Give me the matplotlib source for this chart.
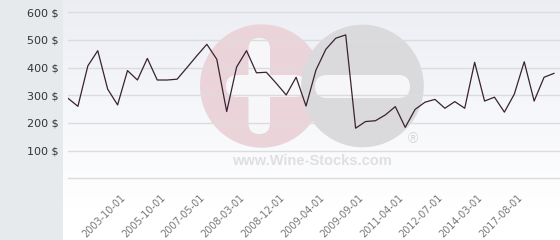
import matplotlib
matplotlib.use('Agg')
import matplotlib.pyplot as plt
import matplotlib.transforms as mtransforms
import numpy as np
from matplotlib.patches import Circle, FancyBboxPatch, Rectangle

# Prices (one point per entry)
prices = [289, 260, 406, 461, 322, 265, 389, 355, 433, 355,
          355, 358, 400, 443, 484, 430, 241, 402, 461, 381,
          383, 343, 301, 365, 261, 391, 466, 506, 518, 181,
          205, 208, 229, 259, 184, 249, 275, 285, 253, 277,
          253, 419, 279, 293, 239, 304, 421, 279, 365, 379]

# Labelled dates (every 4th point, starting at the 7th)
tick_labels = ['2003-10-01', '2005-10-01', '2007-05-01', '2008-03-01',
               '2008-12-01', '2009-04-01', '2009-09-01', '2011-04-01',
               '2012-07-01', '2014-03-01', '2017-08-01']
tick_pos = list(range(6, 6 + 4 * len(tick_labels), 4))

y_ticks = [0, 100, 200, 300, 400, 500, 600]
y_labels = ['' if v == 0 else f'{v} $' for v in y_ticks]

fig = plt.figure(figsize=(5.6, 2.4), dpi=100)

# background layer in pixel coordinates
bg = fig.add_axes([0, 0, 1, 1])
bg.set_xlim(0, 560)
bg.set_ylim(240, 0)
bg.axis('off')
bg.add_patch(Rectangle((0, 0), 63, 240, color='#e6eaed', lw=0))
grad = np.linspace(0, 1, 200).reshape(-1, 1)
top = np.array([0.925, 0.933, 0.957])
bottom = np.array([1.0, 1.0, 1.0])
img = top + (bottom - top) * np.clip(grad * 1.15, 0, 1)[:, :, None]
bg.imshow(img, extent=(63, 560, 240, 0), aspect='auto', zorder=0)

# watermark
bg.add_patch(Circle((261.7, 86), 61.7, fc='#ead4da', ec='none', zorder=1))
bg.add_patch(FancyBboxPatch((226, 75), 80, 22, boxstyle='round,pad=0,rounding_size=11',
                            fc='#f7f7fa', ec='none', zorder=2))
bg.add_patch(FancyBboxPatch((248.5, 38), 21.5, 96, boxstyle='round,pad=0,rounding_size=10.7',
                            fc='#f7f7fa', ec='none', zorder=2))
bg.add_patch(Circle((362.5, 86), 61.3, fc='#dadadc', ec='none', zorder=3))
bg.add_patch(FancyBboxPatch((315, 75), 95, 23, boxstyle='round,pad=0,rounding_size=11.5',
                            fc='#f6f6f8', ec='none', zorder=4))
bg.text(312, 161, 'www.Wine-Stocks.com', fontsize=10.5, fontweight='bold',
        family='Liberation Sans', color='#dfdfe1', ha='center', va='center', zorder=5)
bg.text(413, 139, '®', fontsize=10, family='Liberation Sans', color='#d6d6d8',
        ha='center', va='center', zorder=5)

# main chart
ax = fig.add_axes([68 / 560, (240 - 178.3) / 240, (560 - 68) / 560, 178.3 / 240])
ax.patch.set_alpha(0)
x = np.arange(len(prices))
ax.plot(x, prices, color='#3a2230', lw=0.9, zorder=3)

ax.set_xlim(0, 492 / 9.918)
ax.set_ylim(0, 644)
ax.set_yticks(y_ticks)
ax.set_yticklabels(y_labels, fontsize=8, color='#333333')
ax.set_xticks(tick_pos)
ax.set_xticklabels(tick_labels, rotation=45, ha='right', fontsize=7, color='#777777')
shift = mtransforms.ScaledTranslation(4 / 100, 0, fig.dpi_scale_trans)
for lbl in ax.get_xticklabels():
    lbl.set_transform(lbl.get_transform() + shift)
ax.tick_params(axis='y', length=0, pad=6.5)
ax.tick_params(axis='x', length=0, pad=10)
ax.grid(axis='y', color='#dcdcdc', lw=1)
for gl in ax.get_ygridlines():
    gl.set_clip_on(False)
ax.grid(axis='x', visible=False)
for s in ax.spines.values():
    s.set_visible(False)

fig.savefig('out.png', dpi=100)
